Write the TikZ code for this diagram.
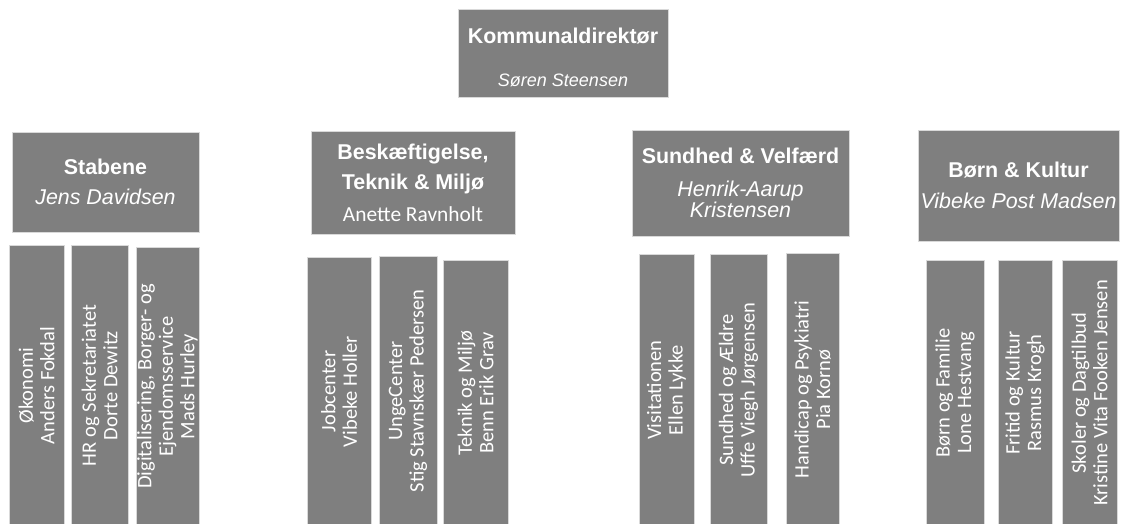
\documentclass[tikz,border=0pt]{standalone}
\usepackage{fontspec}
\setmainfont{Liberation Sans}
\newfontfamily\calibfont{Carlito}

\usetikzlibrary{%
    calc,
    positioning
}

\definecolor{boxfill}{RGB}{127,127,127}
\definecolor{boxline}{RGB}{217,217,217}

\tikzset{
    chef/.style={draw=boxline, fill=boxfill, text=white, line width=.8pt,
                 align=center, inner sep=0pt,
                 font=\fontsize{21.4}{30}\selectfont},
    afdeling/.style={draw=boxline, fill=boxfill, text=white, line width=.8pt,
                 align=center, inner sep=0pt, rotate=90,
                 font=\calibfont\fontsize{20.5}{21.5}\selectfont}
}

\begin{document}
\begin{tikzpicture}[x=1pt, y=-1pt]
    \useasboundingbox (0,0) rectangle (1121,524);
    \clip (0,0) rectangle (1121,524);

    % direktion og chefer
    \node[chef, minimum width=210pt, minimum height=88pt] (direktoer) at (563,53)
        {\rule{0pt}{25pt}\textbf{Kommunaldirektør}\\[13pt]{\fontsize{18}{20}\selectfont\itshape Søren Steensen}};
    \node[chef, minimum width=187pt, minimum height=100pt] (stabene) at (105.5,182)
        {\textbf{Stabene}\\\textit{Jens Davidsen}};
    \node[chef, minimum width=204pt, minimum height=103pt] (bsk) at (413,182.5)
        {\textbf{Beskæftigelse,}\\\textbf{Teknik \& Miljø}\\[2pt]{\calibfont Anette Ravnholt}};
    \node[chef, minimum width=217pt, minimum height=106pt] (sundhed) at (740.5,183)
        {\textbf{Sundhed \& Velfærd}\\[3pt]\textit{Henrik-Aarup}\\[-8.5pt]\textit{Kristensen}};
    \node[chef, minimum width=201pt, minimum height=111pt] (boern) at (1018.5,185.5)
        {\textbf{Børn \& Kultur}\\[1pt]\textit{Vibeke Post Madsen}};

    % afdelinger
    \foreach \Name/\Left/\Right/\Top/\Text in {%
        oekonomi/9/64/245/{Økonomi\\Anders Fokdal},
        hr/71/128/245/{HR og Sekretariatet\\Dorte Dewitz},
        digital/136/199/247/{Digitalisering, Borger- og\\Ejendomsservice\\Mads Hurley},
        jobcenter/307/371/257/{Jobcenter\\Vibeke Holler},
        ungecenter/379/437/256/{UngeCenter\\Stig Stavnskær Pedersen},
        teknik/443/508/260/{Teknik og Miljø\\Benn Erik Grav},
        visitation/639/694/254/{Visitationen\\Ellen Lykke},
        aeldre/710/767/254/{Sundhed og Ældre\\Uffe Viegh Jørgensen},
        handicap/786/839/253/{Handicap og Psykiatri\\Pia Kornø},
        familie/926/984/260/{Børn og Familie\\Lone Hestvang},
        fritid/998/1052/260/{Fritid og Kultur\\Rasmus Krogh},
        skoler/1062/1117/260/{Skoler og Dagtilbud\\Kristine Vita Fooken Jensen}%
        }
    {
        \pgfmathsetmacro\Hoejde{526-\Top}
        \pgfmathsetmacro\Bredde{\Right-\Left}
        \node[afdeling, minimum width=\Hoejde pt, minimum height=\Bredde pt] (\Name)
            at ({(\Left+\Right)/2},{(\Top+526)/2}) {\Text};
    }
\end{tikzpicture}
\end{document}
